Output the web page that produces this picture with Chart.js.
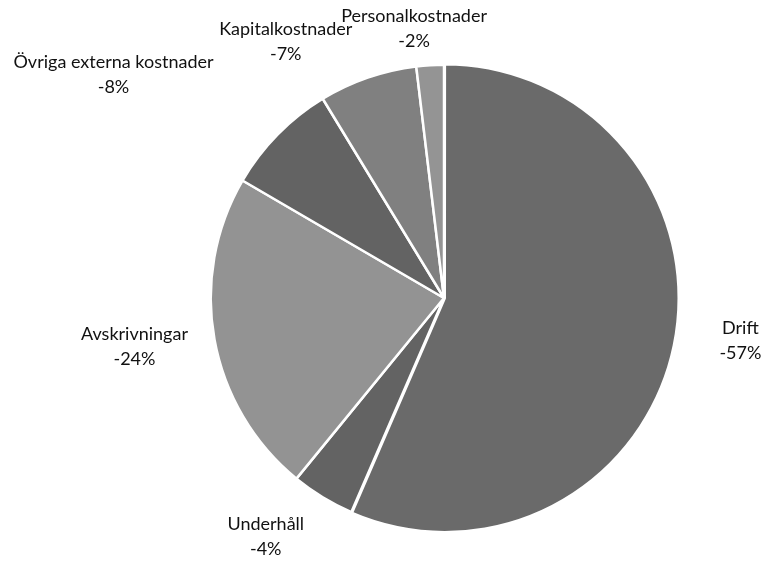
<!DOCTYPE html>
<html>
<head>
<meta charset="utf-8">
<script src="https://cdn.jsdelivr.net/npm/chart.js@4.4.1/dist/chart.umd.min.js"></script>
<style>
  html, body { margin: 0; padding: 0; background: #fff; }
  #wrap { width: 764px; height: 561px; }
</style>
</head>
<body>
<div id="wrap"><canvas id="pie"></canvas></div>
<script>
// cost categories, clockwise from 12 o'clock
const categories = ["Drift", "Underhåll", "Avskrivningar", "Övriga externa kostnader", "Kapitalkostnader", "Personalkostnader"];
// share of total (%)
const shares = [56.5, 4.4, 22.5, 7.9, 6.8, 1.9];
// printed percentage labels
const pctLabels = ["-57%", "-4%", "-24%", "-8%", "-7%", "-2%"];
const sliceColors = ["#6a6a6a", "#636363", "#939393", "#636363", "#808080", "#949494"];

// label placement relative to the outer edge of each slice
const labelOffsets = [[68, -5], [-57, 39], [-80, 7], [-164, -60], [-82, -36], [-16, -37]];

const outsideLabels = {
  id: "outsideLabels",
  afterDatasetsDraw(chart) {
    const ctx = chart.ctx;
    const meta = chart.getDatasetMeta(0);
    ctx.save();
    ctx.font = "18px Lato";
    ctx.fillStyle = "#111111";
    ctx.textAlign = "center";
    ctx.textBaseline = "middle";
    meta.data.forEach((arc, i) => {
      const p = arc.getProps(["x", "y", "startAngle", "endAngle", "outerRadius"], true);
      const mid = (p.startAngle + p.endAngle) / 2;
      const x = p.x + Math.cos(mid) * p.outerRadius + labelOffsets[i][0];
      const y = p.y + Math.sin(mid) * p.outerRadius + labelOffsets[i][1];
      ctx.fillText(categories[i], x, y - 12);
      ctx.fillText(pctLabels[i], x, y + 13);
    });
    ctx.restore();
  }
};

new Chart(document.getElementById("pie").getContext("2d"), {
  type: "pie",
  data: {
    labels: categories,
    datasets: [{
      data: shares,
      backgroundColor: sliceColors,
      borderColor: "#ffffff",
      borderWidth: 2.5,
      offset: [3, 0, 0, 0, 0, 0]
    }]
  },
  options: {
    responsive: true,
    maintainAspectRatio: false,
    animation: false,
    layout: { padding: { top: 62, bottom: 27, left: 208, right: 84 } },
    plugins: {
      legend: { display: false },
      tooltip: { enabled: false }
    }
  },
  plugins: [outsideLabels]
});
</script>
</body>
</html>
